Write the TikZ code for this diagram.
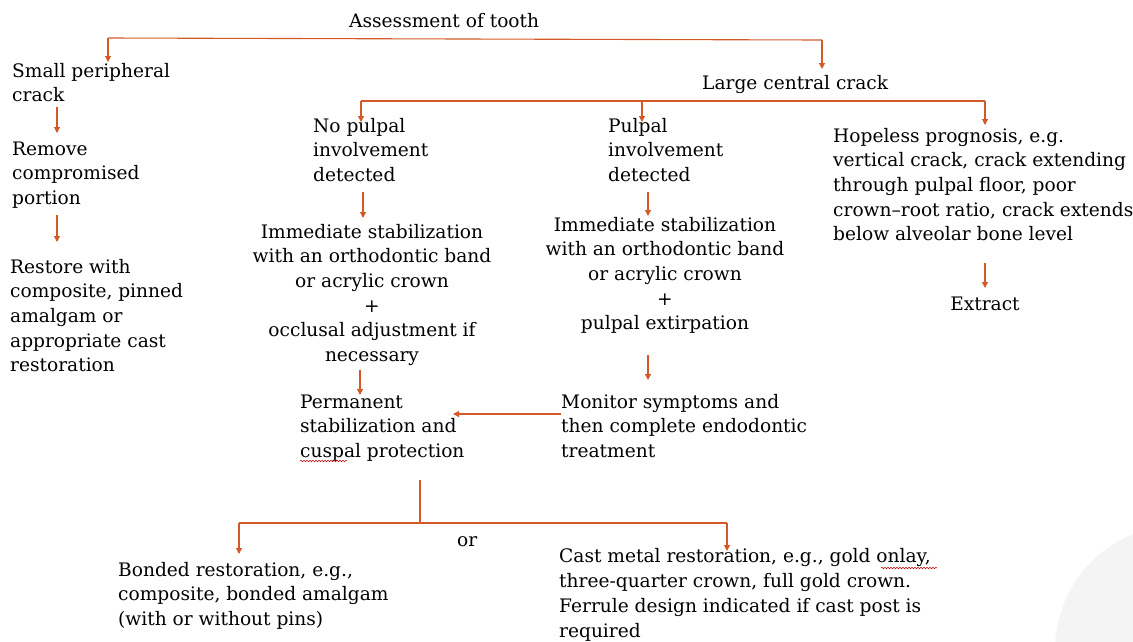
\documentclass[tikz,border=0pt]{standalone}
\usepackage{fontspec}
\setmainfont{DejaVu Serif}
\usetikzlibrary{arrows.meta,decorations.pathmorphing}
\definecolor{oc}{HTML}{D35A28}
\definecolor{faint}{HTML}{F4F4F4}
\begin{document}
\begin{tikzpicture}[x=1pt,y=-1pt,
 txt/.style={font=\fontsize{18.6}{24.7}\selectfont, inner sep=0pt, align=left, anchor=base west},
 ctxt/.style={txt, align=center, anchor=base},
 conn/.style={draw=oc, line width=1.1pt},
 arr/.style={conn, -{Triangle[length=6pt,width=6pt]}},
 wavy/.style={draw=red!75!black, line width=0.5pt, decorate, decoration={snake, amplitude=0.8pt, segment length=3pt}}]
\useasboundingbox (0,0) rectangle (1133,641);

% faint background disc (bottom right)
\begin{scope}
\clip (0,0) rectangle (1133,641);
\fill[faint] (1180,650) circle[radius=125];
\end{scope}

% nodes (positions give the baseline of the last line)
\node[txt] (assess) at (349,27) {Assessment of tooth};
\node[txt] (small) at (12,101.7) {Small peripheral\\crack};
\node[txt] (remove) at (12,204.4) {Remove\\compromised\\portion};
\node[txt] (restore) at (10,371.8) {Restore with\\composite, pinned\\amalgam or\\appropriate cast\\restoration};
\node[txt] (large) at (702,89) {Large central crack};
\node[txt] (nopulp) at (313,181.4) {No pulpal\\involvement\\detected};
\node[ctxt] (imm1) at (372,361.5) {Immediate stabilization\\with an orthodontic band\\or acrylic crown\\+\\occlusal adjustment if\\necessary};
\node[txt] (pulp) at (608,181.4) {Pulpal\\involvement\\detected};
\node[ctxt] (imm2) at (665,329.8) {Immediate stabilization\\with an orthodontic band\\or acrylic crown\\+\\pulpal extirpation};
\node[txt] (hope) at (833,240.8) {Hopeless prognosis, e.g.\\vertical crack, crack extending\\through pulpal floor, poor\\crown–root ratio, crack extends\\below alveolar bone level};
\node[ctxt] (extract) at (985,310) {Extract};
\node[txt] (perm) at (300,457.4) {Permanent\\stabilization and\\cuspal protection};
\node[txt] (monitor) at (561,457.4) {Monitor symptoms and\\then complete endodontic\\treatment};
\node[txt] (or) at (457,546) {or};
\node[txt] (bonded) at (118,625.4) {Bonded restoration, e.g.,\\composite, bonded amalgam\\(with or without pins)};
\node[txt] (cast) at (559,637) {Cast metal restoration, e.g., gold onlay,\\three-quarter crown, full gold crown.\\Ferrule design indicated if cast post is\\required};

% junction coordinates
\coordinate (b1l) at (108,38);
\coordinate (b1r) at (822,40);
\coordinate (e1l) at (108,62);
\coordinate (e1r) at (822,69);
\coordinate (b2l) at (361,101);
\coordinate (b2m) at (642,101);
\coordinate (b2r) at (985,101);
\coordinate (e2l) at (361,122);
\coordinate (e2m) at (642,122);
\coordinate (e2r) at (985,125);
\coordinate (s1a) at (57,107);  \coordinate (s1b) at (57,133);
\coordinate (s2a) at (57,215);  \coordinate (s2b) at (57,242);
\coordinate (n1a) at (363,192); \coordinate (n1b) at (363,218);
\coordinate (n2a) at (360,370); \coordinate (n2b) at (360,395);
\coordinate (p1a) at (648,192); \coordinate (p1b) at (648,216);
\coordinate (p2a) at (648,355); \coordinate (p2b) at (648,380);
\coordinate (h1a) at (985,263); \coordinate (h1b) at (985,288);
\coordinate (ma) at (561,414);  \coordinate (mb) at (453,414);
\coordinate (v1) at (420,480);  \coordinate (v2) at (420,523);
\coordinate (b3l) at (239,523); \coordinate (b3r) at (727,523);
\coordinate (e3l) at (239,554); \coordinate (e3r) at (727,551);

% connectors
\draw[conn] (b1l) -- (b1r);
\draw[arr] (b1l) -- (e1l);
\draw[arr] (b1r) -- (e1r);
\draw[conn] (b2l) -- (b2r);
\draw[arr] (b2l) -- (e2l);
\draw[arr] (b2m) -- (e2m);
\draw[arr] (b2r) -- (e2r);
\draw[arr] (s1a) -- (s1b);
\draw[arr] (s2a) -- (s2b);
\draw[arr] (n1a) -- (n1b);
\draw[arr] (n2a) -- (n2b);
\draw[arr] (p1a) -- (p1b);
\draw[arr] (p2a) -- (p2b);
\draw[arr] (h1a) -- (h1b);
\draw[arr] (ma) -- (mb);
\draw[conn] (v1) -- (v2);
\draw[conn] (b3l) -- (b3r);
\draw[arr] (b3l) -- (e3l);
\draw[arr] (b3r) -- (e3r);

% spell-check underlines
\draw[wavy] (300,461) -- (347,461);
\draw[wavy] (881,568) -- (937,568);
\end{tikzpicture}
\end{document}
